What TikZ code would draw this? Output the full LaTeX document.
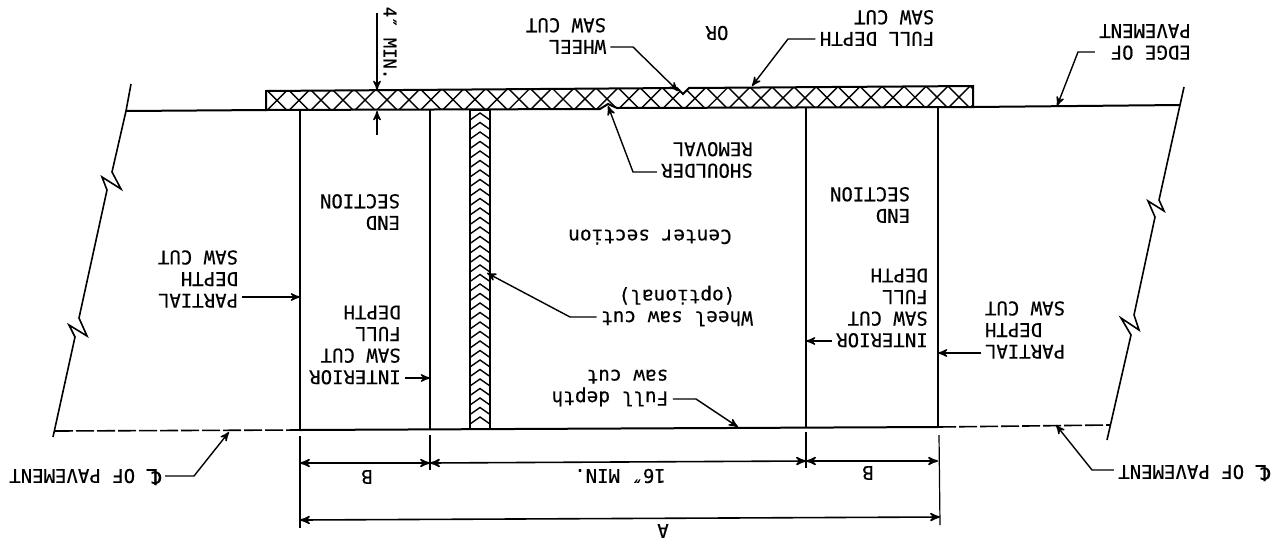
\documentclass[tikz,border=0pt]{standalone}
\usepackage{fontspec}
\newfontfamily\drawfont[FakeBold=.3]{DejaVu Sans Mono}
\newfontfamily\clfont[FakeBold=.3]{DejaVu Sans}
\usetikzlibrary{arrows}
\tikzset{
    >=stealth',
    capslbl/.style={
      rotate=180,
      inner sep=2pt,
      text centered,
      font=\drawfont\fontsize{9.5}{10.8}\selectfont},
    lowlbl/.style={
      rotate=180,
      inner sep=2pt,
      text centered,
      font=\drawfont\fontsize{9.7}{10.8}\selectfont},
    slab/.style={draw, line width=1pt},
    dashedge/.style={draw, line width=.8pt, dash pattern=on 9pt off 1.5pt},
    breakline/.style={draw, line width=.8pt},
    leader/.style={draw, line width=.7pt, ->, shorten >=0pt},
    extline/.style={draw, line width=.6pt},
    dimline/.style={draw, line width=.8pt, <->},
    hatch/.style={draw, line width=.7pt},
}
\newcommand{\clsym}{{\clfont\fontsize{11}{10.8}\selectfont ℄}}
\begin{document}
\begin{tikzpicture}[x=.5pt, y=-.5pt]
      \useasboundingbox (0,0) rectangle (1273,541);
      \coordinate (edgeTL) at (126,111);
      \coordinate (edgeTR) at (1180,105);
      \coordinate (stripBL) at (266,110);
      \coordinate (stripBR) at (973,107);
      \coordinate (cutA) at (300,110);
      \coordinate (cutB) at (430,110);
      \coordinate (cutC) at (806,108);
      \coordinate (cutD) at (938,108);
      \coordinate (botA) at (300,430);
      \coordinate (botB) at (430,429);
      \coordinate (botC) at (806,427);
      \coordinate (botD) at (938,427);
      \coordinate (botL) at (55,431);
      \coordinate (botR) at (1110,425);

      % slab and saw cuts
      \path[slab] (edgeTL) -- (stripBL);
      \path[slab] (stripBR) -- (edgeTR);
      \path[slab] (cutA) -- (botA);
      \path[slab] (cutB) -- (botB);
      \path[slab] (cutC) -- (botC);
      \path[slab] (cutD) -- (botD);
      \path[slab] (botA) -- (botD);
      \path[dashedge] (botL) -- (botA);
      \path[dashedge] (botD) -- (botR);

      % broken edges
      \path[breakline] (131,84) -- (edgeTL) -- (112,172) -- (121,189) -- (102,177) -- (107,190)
        -- (79,318) -- (87,336) -- (69,325) -- (75,337) -- (53,437);
      \path[breakline] (1184,87) -- (edgeTR) -- (1159,200) -- (1164,211) -- (1148,201) -- (1155,217)
        -- (1134,315) -- (1139,330) -- (1121,318) -- (1131,335) -- (1107,440);

      % shoulder removal strip
      \begin{scope}
        \clip (266,91) -- (677,88) -- (683,94) -- (689,88) -- (973,86) -- (stripBR)
          -- (617,108) -- (608,104) -- (600,109) -- (stripBL) -- cycle;
        \foreach \xc [evaluate=\xc as \ym using 100.5-(\xc-266)*.005] in {277,299,...,985}
          \path[hatch] (\xc-14,\ym-14) -- (\xc+14,\ym+14) (\xc-14,\ym+14) -- (\xc+14,\ym-14);
      \end{scope}
      \path[slab] (266,91) -- (677,88) -- (683,94) -- (689,88) -- (973,86) -- (stripBR)
        -- (617,108) -- (608,104) -- (600,109) -- (stripBL) -- cycle;

      % wheel saw cut strip
      \path[slab] (470,110) rectangle (490,429);
      \foreach \yc in {113,122.5,...,422}
        \path[hatch] (470,\yc+7) -- (480,\yc) -- (490,\yc+7);

      % dimensions
      \coordinate (dimAl) at (300,520);
      \coordinate (dimAr) at (940,517);
      \coordinate (dimBl) at (300,463);
      \coordinate (dimBm) at (430,463);
      \coordinate (dimCm) at (806,461);
      \coordinate (dimCr) at (938,461);
      \path[extline] (300,436) -- (300,528);
      \path[extline] (430,435) -- (430,470);
      \path[extline] (806,432) -- (806,468);
      \path[extline] (939,435) -- (940,525);
      \path[dimline] (dimBl) -- (dimBm);
      \path[dimline] (dimBm) -- (dimCm);
      \path[dimline] (dimCm) -- (dimCr);
      \path[dimline] (dimAl) -- (dimAr);
      \node[capslbl] (dimB1) at (367,477) {B};
      \node[capslbl] (dimMin) at (620,476) {16″ MIN.};
      \node[capslbl] (dimB2) at (868,473) {B};
      \node[capslbl] (dimA) at (663,531) {A};

      % thickness
      \node[capslbl, rotate=90, font=\drawfont\fontsize{8.6}{10.8}\selectfont] (thick) at (390,43) {4″ MIN.};
      \coordinate (thickT1) at (377,13);
      \coordinate (thickT2) at (377,135);
      \coordinate (thickTop) at (377,90);
      \coordinate (thickBot) at (377,111);
      \path[leader] (thickT1) -- (thickTop);
      \path[leader] (thickT2) -- (thickBot);

      % labels
      \node[capslbl, align=left] (wheel) at (566,36) {WHEEL\\SAW CUT};
      \node[capslbl] (orLbl) at (717,33) {OR};
      \node[capslbl, align=left] (fullCut) at (877,28) {FULL DEPTH\\SAW CUT};
      \node[capslbl, align=left] (edge) at (1145,42) {EDGE OF\\PAVEMENT};
      \node[capslbl, align=left] (shoulder) at (707,160) {SHOULDER\\REMOVAL};
      \node[capslbl, align=left] (endL) at (360,212) {END\\SECTION};
      \node[capslbl, align=left] (endR) at (870,205) {END\\SECTION};
      \node[capslbl, align=left] (intL) at (355,345) {INTERIOR\\SAW CUT\\FULL\\DEPTH};
      \node[capslbl, align=left] (intR) at (882,308) {INTERIOR\\SAW CUT\\FULL\\DEPTH};
      \node[capslbl, align=left] (partL) at (198,279) {PARTIAL\\DEPTH\\SAW CUT};
      \node[capslbl, align=right] (partR) at (1025,330) {PARTIAL\\DEPTH\\SAW CUT};
      \node[capslbl] (clL) at (85,477) {\clsym{} OF PAVEMENT};
      \node[capslbl] (clR) at (1194,473) {\clsym{} OF PAVEMENT};
      \node[lowlbl] (center) at (650,237) {Center section};
      \node[lowlbl, align=center] (wheelOpt) at (677,306) {Wheel saw cut\\(optional)};
      \node[lowlbl, align=left] (fullLow) at (610,388) {Full depth\\saw cut};

      % leaders
      \coordinate (wheelKnee) at (633,47);
      \coordinate (fullKnee) at (788,39);
      \coordinate (edgeKnee) at (1078,52);
      \coordinate (shoulderKnee) at (633,172);
      \coordinate (optKnee) at (570,317);
      \coordinate (lowKnee) at (696,399);
      \coordinate (clLKnee) at (194,476);
      \coordinate (clRKnee) at (1092,470);
      \path[leader] (wheel.west |- wheelKnee) -- (wheelKnee) -- (678,91);
      \path[leader] (fullCut.east |- fullKnee) -- (fullKnee) -- (752,86);
      \path[leader] (edge.east |- edgeKnee) -- (edgeKnee) -- (1057,106);
      \path[leader] (shoulder.east |- shoulderKnee) -- (shoulderKnee) -- (608,106);
      \path[leader] (wheelOpt.east |- optKnee) -- (optKnee) -- (487,273);
      \path[leader] (fullLow.west |- lowKnee) -- (lowKnee) -- (738,427);
      \path[leader] (clL.west |- clLKnee) -- (clLKnee) -- (229,432);
      \path[leader] (clR.east |- clRKnee) -- (clRKnee) -- (1056,425);
      \path[leader] (partL.west |- 0,297) -- (cutA |- 0,297);
      \path[leader] (partR.east |- 0,353) -- (cutD |- 0,353);
      \path[leader] (intL.west |- 0,378) -- (cutB |- 0,378);
      \path[leader] (intR.east |- 0,341) -- (cutC |- 0,341);
\end{tikzpicture}
\end{document}
